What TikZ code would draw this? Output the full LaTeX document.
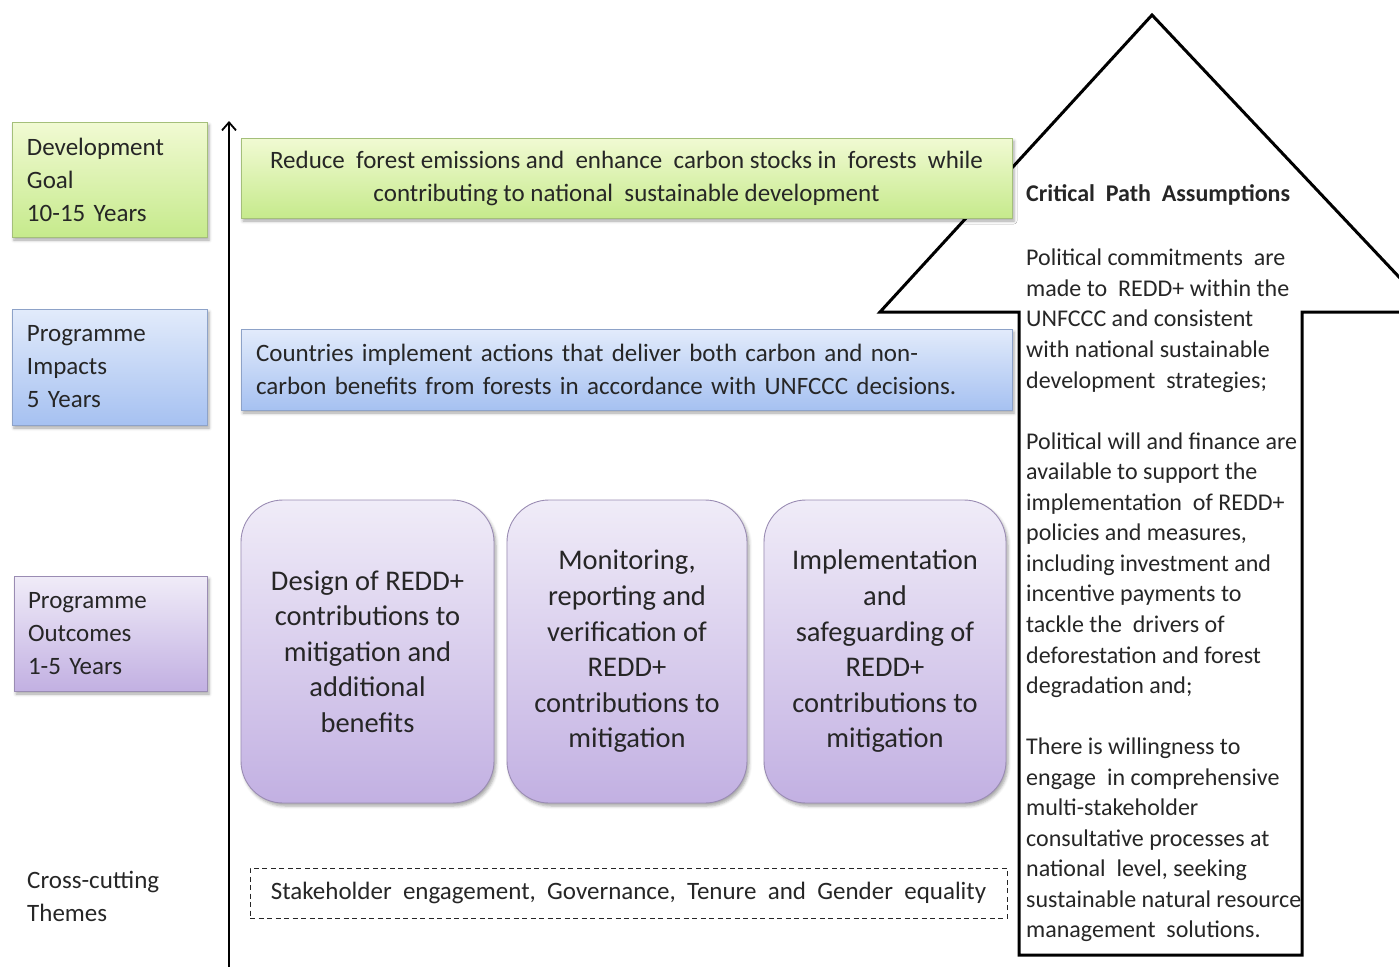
\documentclass[tikz,border=0pt]{standalone}
\usepackage{fontspec}
\setmainfont{Carlito}
\usetikzlibrary{arrows.meta,shadows.blur}
\definecolor{txt}{HTML}{262626}
\definecolor{gTop}{HTML}{F1FAD3}
\definecolor{gBot}{HTML}{C6EA8C}
\definecolor{gBrd}{HTML}{A4BF7A}
\definecolor{bTop}{HTML}{E2EBFB}
\definecolor{bBot}{HTML}{A6C1F1}
\definecolor{bBrd}{HTML}{8DA2C8}
\definecolor{pTop}{HTML}{F0ECF8}
\definecolor{pBot}{HTML}{C2B0E2}
\definecolor{pBrd}{HTML}{9A8CB3}
\begin{document}
\begin{tikzpicture}[x=1pt,y=-1pt,
  boxbase/.style={draw, line width=0.9pt, text=txt, inner ysep=0pt,
    blur shadow={shadow xshift=2pt, shadow yshift=-3pt, shadow blur radius=3pt, shadow opacity=35}},
  greenbox/.style={boxbase, top color=gTop, bottom color=gBot, draw=gBrd},
  bluebox/.style={boxbase, top color=bTop, bottom color=bBot, draw=bBrd},
  purplebox/.style={boxbase, top color=pTop, bottom color=pBot, draw=pBrd},
  lvl/.style={font=\fontsize{25}{33}\selectfont, align=left, text width=#1, inner xsep=15pt},
  outc/.style={purplebox, rounded corners=42pt, align=center, font=\fontsize{28.5}{35.6}\selectfont},
  cpa/.style={text=txt, inner sep=0pt, align=left, font=\fontsize{24}{30.55}\selectfont},
]
\useasboundingbox (0,0) rectangle (1399,966);

% big assumptions arrow (clipped at picture edge)
\begin{scope}
\clip (0,0) rectangle (1399,966);
\draw[line width=3pt, fill=white, line join=miter]
  (1152,15) -- (880,312) -- (1019,312) -- (1019,955) -- (1302,955)
  -- (1302,312) -- (1432,312) -- cycle;
\end{scope}

% level labels
\node[greenbox, lvl=165pt, minimum width=195pt, minimum height=115pt] (goal) at (109.5,179.5)
  {Development\\Goal\\10-15 Years};
\node[bluebox, lvl=165pt, minimum width=195pt, minimum height=116pt] (impact) at (109.5,367)
  {Programme\\Impacts\\5 Years};
\node[purplebox, lvl=165pt, minimum width=193pt, minimum height=115pt, inner xsep=13pt] (outcome) at (110.5,633.5)
  {Programme\\Outcomes\\1-5 Years};
\node[text=txt, align=left, anchor=west, inner sep=0pt, font=\fontsize{25}{33}\selectfont] (cross) at (27,896.5)
  {Cross-cutting\\Themes};

% vertical axis arrow
\coordinate (axisbot) at (229,968);
\coordinate (axistop) at (229,121);
\draw[line width=2.8pt, -{Straight Barb[length=8pt,width=14pt,line width=1.8pt]}] (axisbot) -- (axistop);

% main rows
\node[greenbox, minimum width=771pt, minimum height=80pt, align=center,
  font=\fontsize{25}{33}\selectfont] (goalbox) at (626.5,178)
  {Reduce\ \ forest emissions and\ \ enhance\ \ carbon stocks in\ \ forests\ \ while\\contributing to national\ \ sustainable development};
\node[bluebox, minimum width=771pt, minimum height=81pt, text width=741pt, inner xsep=15pt, align=left,
  font=\fontsize{25}{33}\selectfont] (impactbox) at (626.5,369.5)
  {Countries implement actions that deliver both carbon and non-\\carbon benefits from forests in accordance with UNFCCC decisions.};

% outcomes
\node[outc, minimum width=253pt, minimum height=303pt] (out1) at (367.5,651.5)
  {Design of REDD+\\contributions to\\mitigation and\\additional\\benefits};
\node[outc, minimum width=240pt, minimum height=303pt] (out2) at (627,651.5)
  {Monitoring,\\reporting and\\verification of\\REDD+\\contributions to\\mitigation};
\node[outc, minimum width=242pt, minimum height=303pt] (out3) at (885,651.5)
  {Implementation\\and\\safeguarding of\\REDD+\\contributions to\\mitigation};

% cross-cutting themes
\node[draw=txt, dash pattern=on 5pt off 3.5pt, line width=1pt, minimum width=757pt, minimum height=50pt,
  text=txt, font=\fontsize{25}{33}\selectfont] (themes) at (628.5,893)
  {Stakeholder\ \ engagement,\ \ Governance,\ \ Tenure\ \ and\ \ Gender\ \ equality};

% critical path assumptions
\node[cpa, anchor=west, font=\bfseries\fontsize{24}{30.55}\selectfont] (cpatitle) at (1026,195)
  {Critical\ \ Path\ \ Assumptions};
\node[cpa, anchor=north west] (cpabody) at (1026,249)
  {Political commitments\ \ are\\
   made to\ \ REDD+ within the\\
   UNFCCC and consistent\\
   with national sustainable\\
   development\ \ strategies;\\[30.55pt]
   Political will and finance are\\
   available to support the\\
   implementation\ \ of REDD+\\
   policies and measures,\\
   including investment and\\
   incentive payments to\\
   tackle the\ \ drivers of\\
   deforestation and forest\\
   degradation and;\\[30.55pt]
   There is willingness to\\
   engage\ \ in comprehensive\\
   multi-stakeholder\\
   consultative processes at\\
   national\ \ level, seeking\\
   sustainable natural resource\\
   management\ \ solutions.};
\end{tikzpicture}
\end{document}
